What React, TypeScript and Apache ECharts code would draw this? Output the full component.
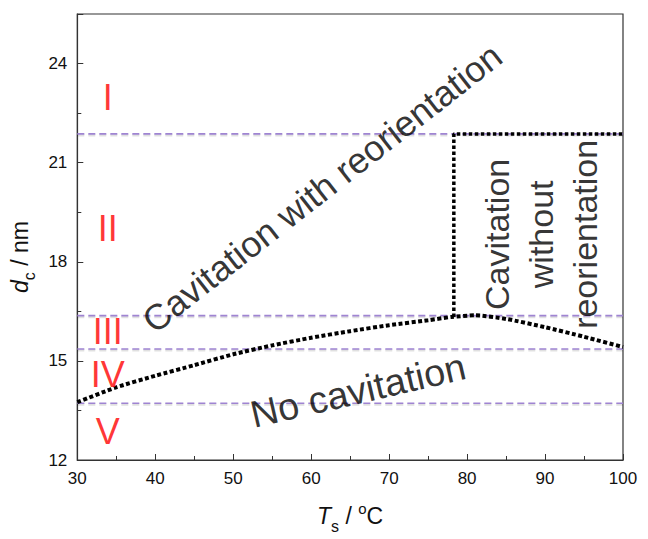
import React, { useEffect, useRef } from "react";
import * as echarts from "echarts";

// ---- data ----
const curveX = [30, 35, 40, 45, 50, 55, 60, 65, 70, 75, 78, 81, 85, 90, 95, 100];
const curveY = [13.75, 14.2, 14.55, 14.87, 15.2, 15.47, 15.7, 15.9, 16.08, 16.23, 16.33, 16.38, 16.27, 16.02, 15.73, 15.42];
const boundaryX = [78.3, 78.3, 100];
const boundaryY = [16.33, 21.87, 21.87];
const regionLevels = [21.87, 16.37, 15.36, 13.72];
const regionNames = ["I", "II", "III", "IV", "V"];
const regionLabelY = [22.98, 19.0, 15.88, 14.6, 12.85];
const regionLabelX = 33.9;
const annoTexts = ["Cavitation with reorientation", "Cavitation\nwithout\nreorientation", "No cavitation"];
const annoX = [61.4, 89.5, 66.0];
const annoY = [20.23, 18.83, 14.1];
const annoRotate = [38, 90, 13];

const FONT = "'Liberation Sans', Arial, Helvetica, sans-serif";

export default function App() {
  const ref = useRef<HTMLDivElement>(null);
  useEffect(() => {
    if (!ref.current) return;
    const chart = echarts.init(ref.current, null, { renderer: "svg" });
    const dashSeries = regionLevels.map((v) => ({
      type: "line",
      data: [[30, v], [100, v]],
      symbol: "none",
      silent: true,
      z: 2,
      lineStyle: {
        color: "#9f84d2",
        width: 1.6,
        type: [7, 4],
      },
    }));
    const shadowSeries = regionLevels.map((v) => ({
      type: "line",
      data: [[30, v - 0.04], [100, v - 0.04]],
      symbol: "none",
      silent: true,
      z: 1,
      lineStyle: {
        color: "rgba(0,0,0,0.12)",
        width: 2.5,
        type: [7, 4],
      },
    }));
    const richName = {
      i: { fontSize: 23, fontStyle: "italic", fontFamily: FONT, color: "#111" },
      sub: { fontSize: 16, fontFamily: FONT, color: "#111", padding: [20, 0, 0, 0] },
      sup: { fontSize: 15, fontFamily: FONT, color: "#111", padding: [0, 0, 16, 0] },
      n: { fontSize: 23, fontFamily: FONT, color: "#111" },
    };
    const option: any = {
      animation: false,
      backgroundColor: "#ffffff",
      grid: {
        left: 72,
        right: 25,
        top: 14,
        bottom: 63,
        show: true,
        borderColor: "#333",
        borderWidth: 1.2,
      },
      xAxis: {
        type: "value",
        min: 30,
        max: 100,
        interval: 10,
        name: "{i|T}{sub|s}{n| / }{sup|o}{n|C}",
        nameLocation: "middle",
        nameGap: 38,
        nameTextStyle: { color: "#111", fontFamily: FONT, fontSize: 23, rich: richName },
        axisLine: { lineStyle: { color: "#333", width: 1.2 } },
        axisTick: { inside: true, length: 6, lineStyle: { color: "#333" } },
        minorTick: { show: true, splitNumber: 2, length: 4, lineStyle: { color: "#333" } },
        axisLabel: { color: "#111", fontSize: 17, fontFamily: FONT, margin: 10 },
        splitLine: { show: false },
      },
      yAxis: {
        type: "value",
        min: 12,
        max: 25.5,
        interval: 3,
        name: "{i|d}{sub|c}{n| / nm}",
        nameLocation: "middle",
        nameGap: 38,
        nameTextStyle: {
          color: "#111",
          fontFamily: FONT,
          fontSize: 23,
          padding: [0, 40, 0, 0],
          rich: richName,
        },
        axisLine: { show: true, lineStyle: { color: "#333", width: 1.2 } },
        axisTick: { inside: true, length: 6, lineStyle: { color: "#333" } },
        minorTick: { show: true, splitNumber: 2, length: 4, lineStyle: { color: "#333" } },
        axisLabel: {
          color: "#111",
          fontSize: 17,
          fontFamily: FONT,
          margin: 10,
          formatter: (v: number) => (v % 3 === 0 ? String(v) : ""),
        },
        splitLine: { show: false },
      },
      series: [
        ...shadowSeries,
        ...dashSeries,
        {
          type: "line",
          data: curveX.map((x, i) => [x, curveY[i]]),
          symbol: "none",
          smooth: 0.2,
          z: 4,
          lineStyle: { color: "#000", width: 4, type: [4, 2.5], cap: "butt" },
        },
        {
          type: "line",
          data: boundaryX.map((x, i) => [x, boundaryY[i]]),
          symbol: "none",
          z: 4,
          lineStyle: { color: "#000", width: 3.5, type: [3.5, 2.5], cap: "butt" },
        },
        {
          type: "scatter",
          symbolSize: 0,
          silent: true,
          z: 5,
          data: regionNames.map((n, i) => ({ value: [regionLabelX, regionLabelY[i]], name: n })),
          label: {
            show: true,
            position: "inside",
            formatter: (p: any) => p.name,
            color: "#ff0000",
            fontSize: 36,
            fontFamily: FONT,
            textBorderWidth: 0,
            textBorderColor: "transparent",
          },
        },
        {
          type: "scatter",
          symbolSize: 0,
          silent: true,
          z: 5,
          data: annoTexts.map((t, i) => ({
            value: [annoX[i], annoY[i]],
            name: t,
            label: {
              rotate: annoRotate[i],
              fontSize: i === 1 ? 34 : i === 2 ? 38 : 36,
              lineHeight: i === 1 ? 44 : 40,
            },
          })),
          label: {
            show: true,
            position: "inside",
            align: "center",
            verticalAlign: "middle",
            formatter: (p: any) => p.name,
            color: "#000",
            fontFamily: FONT,
            textBorderWidth: 0,
            textBorderColor: "transparent",
          },
        },
      ],
    };
    chart.setOption(option);
    return () => chart.dispose();
  }, []);
  return (
    <div
      ref={ref}
      style={{ position: "fixed", left: 0, top: 0, width: 648, height: 539, background: "#fff" }}
    />
  );
}
